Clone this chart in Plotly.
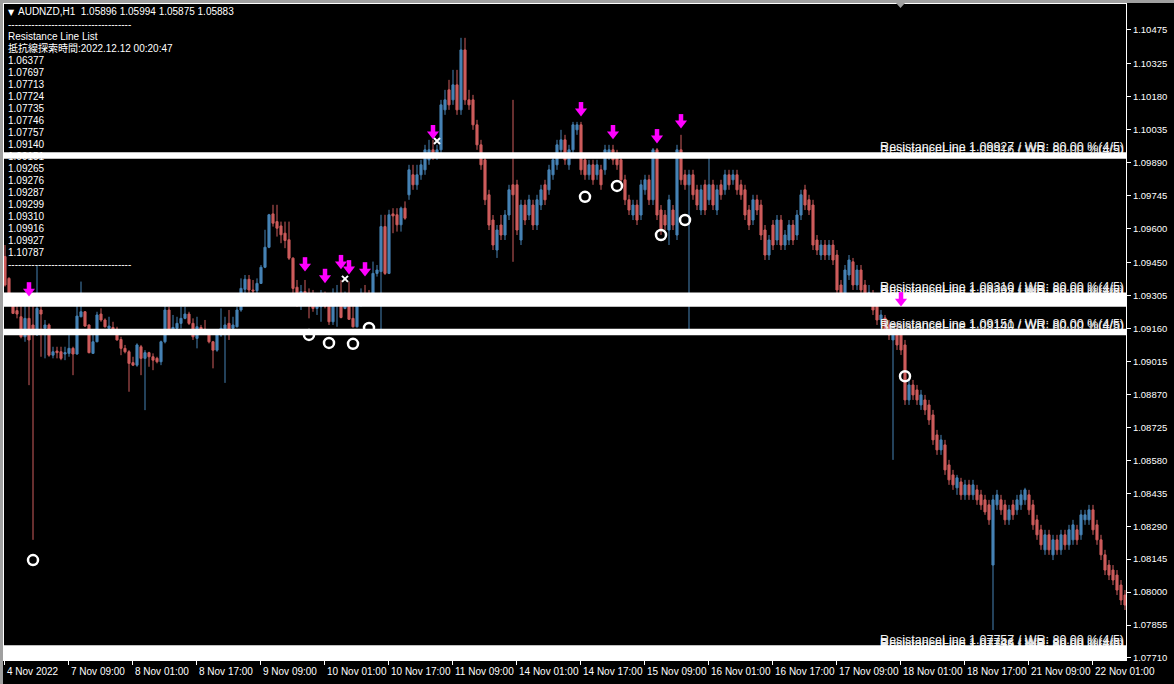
import plotly.graph_objects as go

# ---------------- data (H1 bars, 4 Nov 17:00 -> 22 Nov 08:00) ----------------
open_ = [
1.09477,1.09381,1.09264,1.09239,1.09212,1.09124,1.09205,1.09176,1.09132,1.09242,
1.09161,1.09176,1.09043,1.09061,1.09058,1.09048,1.09051,1.09073,1.09048,1.09212,
1.09234,1.09176,1.09051,1.09102,1.09224,1.09198,1.09161,1.09165,1.09157,1.09112,
1.09073,1.09058,1.09010,1.08999,1.09080,1.09029,1.09054,1.09036,1.09029,1.09014,
1.09102,1.09242,1.09157,1.09161,1.09183,1.09205,1.09224,1.09183,1.09117,1.09165,
1.09157,1.09154,1.09102,1.09065,1.09132,1.09157,1.09183,1.09161,1.09168,1.09242,
1.09333,1.09377,1.09330,1.09327,1.09359,1.09430,1.09518,1.09665,1.09631,1.09612,
1.09580,1.09551,1.09470,1.09342,1.09298,1.09323,1.09304,1.09298,1.09249,1.09256,
1.09286,1.09264,1.09190,1.09301,1.09312,1.09249,1.09304,1.09205,1.09168,1.09264,
1.09301,1.09298,1.09279,1.09403,1.09411,1.09609,1.09403,1.09665,1.09661,1.09617,
1.09690,
1.09749,1.09837,1.09793,1.09837,1.09859,1.09903,1.09947,1.09915,1.09947,1.10123,
1.10211,1.10167,1.10233,1.10123,1.10387,1.10167,1.10167,1.10057,1.09969,1.09903,
1.09749,1.09638,1.09506,1.09616,1.09572,1.09660,1.09793,1.09793,1.09550,1.09704,
1.09660,1.09704,1.09616,1.09704,1.09793,1.09771,1.09837,1.09881,1.09947,1.09991,
1.09881,1.09947,1.10035,1.10057,1.09903,1.09837,1.09881,1.09837,1.09859,1.09859,
1.09925,1.09947,1.09925,1.09903,1.09815,1.09727,1.09660,1.09704,1.09660,1.09771,
1.09815,1.09727,1.09947,1.09682,1.09660,1.09594,1.09682,1.09572,1.09947,1.09837,
1.09793,1.09837,1.09771,1.09682,1.09793,1.09727,1.09793,1.09682,1.09793,1.09771,
1.09837,1.09815,1.09837,1.09793,1.09771,1.09682,1.09638,1.09727,1.09704,1.09594,
1.09484,1.09616,1.09550,1.09638,1.09528,1.09550,1.09616,1.09572,1.09660,1.09771,
1.09727,1.09704,1.09550,1.09484,1.09528,1.09484,1.09528,1.09484,1.09352,1.09308,
1.09396,1.09454,1.09352,1.09418,1.09352,1.09319,1.09308,1.09264,1.09198,1.09207,
1.09176,1.09110,1.09154,1.09132,1.09088,1.08846,1.08912,1.08890,1.08824,1.08846,
1.08824,1.08780,1.08692,1.08626,1.08648,1.08560,1.08516,1.08459,1.08485,1.08428,
1.08472,1.08428,1.08450,1.08428,1.08406,1.08384,1.08119,1.08384,1.08406,1.08384,
1.08318,1.08384,1.08362,1.08384,1.08406,1.08428,1.08384,1.08318,1.08274,1.08186,
1.08252,1.08164,1.08230,1.08186,1.08252,1.08208,1.08230,1.08274,1.08252,1.08318,
1.08318,1.08362,1.08296,1.08230,1.08164,1.08119,1.08097,1.08075,1.08031,1.07987,
]
high = [
1.09528,1.09386,1.09304,1.09264,1.09264,1.09286,1.09264,1.09264,1.09436,1.09308,
1.09198,1.09183,1.09080,1.09080,1.09080,1.09080,1.09139,1.09080,1.09304,1.09367,
1.09237,1.09178,1.09154,1.09234,1.09249,1.09205,1.09212,1.09190,1.09168,1.09124,
1.09088,1.09065,1.09036,1.09095,1.09088,1.09065,1.09058,1.09051,1.09036,1.09107,
1.09264,1.09257,1.09220,1.09212,1.09257,1.09257,1.09234,1.09205,1.09212,1.09176,
1.09198,1.09158,1.09106,1.09146,1.09249,1.09212,1.09242,1.09212,1.09257,1.09381,
1.09396,1.09396,1.09374,1.09381,1.09440,1.09595,1.09665,1.09705,1.09705,1.09631,
1.09631,1.09631,1.09474,1.09374,1.09352,1.09374,1.09337,1.09330,1.09315,1.09330,
1.09323,1.09301,1.09337,1.09352,1.09374,1.09323,1.09367,1.09271,1.09301,1.09337,
1.09352,1.09330,1.09455,1.09440,1.09661,1.09661,1.09683,1.09690,1.09690,1.09697,
1.09720,
1.09881,1.09881,1.09881,1.09903,1.09969,1.09991,1.09991,1.09969,1.10167,1.10211,
1.10255,1.10299,1.10299,1.10440,1.10440,1.10211,1.10189,1.10079,1.09991,1.09925,
1.09771,1.09660,1.09616,1.09660,1.09682,1.09793,1.10167,1.09815,1.09727,1.09727,
1.09749,1.09727,1.09749,1.09793,1.09815,1.09881,1.09925,1.09991,1.10035,1.10013,
1.09969,1.10070,1.10070,1.10070,1.09925,1.09903,1.09903,1.09903,1.09881,1.09969,
1.09969,1.09969,1.09947,1.09925,1.09837,1.09749,1.09727,1.09727,1.09815,1.09837,
1.09837,1.09955,1.09955,1.09704,1.09682,1.09749,1.09704,1.09969,1.10013,1.09859,
1.09859,1.09859,1.09793,1.09793,1.09815,1.09925,1.09815,1.09793,1.09815,1.09859,
1.09859,1.09859,1.09859,1.09815,1.09793,1.09704,1.09749,1.09749,1.09727,1.09616,
1.09572,1.09638,1.09660,1.09660,1.09594,1.09638,1.09638,1.09682,1.09771,1.09793,
1.09749,1.09727,1.09572,1.09550,1.09550,1.09550,1.09550,1.09506,1.09374,1.09440,
1.09484,1.09471,1.09440,1.09440,1.09374,1.09352,1.09330,1.09286,1.09242,1.09220,
1.09198,1.09176,1.09176,1.09154,1.09110,1.08934,1.08934,1.08912,1.08890,1.08868,
1.08846,1.08802,1.08714,1.08692,1.08670,1.08582,1.08538,1.08516,1.08503,1.08494,
1.08494,1.08494,1.08472,1.08450,1.08428,1.08406,1.08428,1.08450,1.08428,1.08406,
1.08384,1.08406,1.08428,1.08450,1.08459,1.08450,1.08406,1.08340,1.08296,1.08274,
1.08274,1.08252,1.08252,1.08274,1.08274,1.08296,1.08318,1.08296,1.08362,1.08362,
1.08384,1.08384,1.08318,1.08252,1.08186,1.08141,1.08119,1.08097,1.08053,1.08009,
]
low = [
1.09345,1.09260,1.09224,1.09205,1.09117,1.09102,1.08911,1.08230,1.09128,1.09036,
1.09029,1.09036,1.09029,1.09029,1.09021,1.09021,1.09036,1.08955,1.09045,1.09210,
1.09168,1.09051,1.09048,1.09100,1.09190,1.09165,1.09154,1.09146,1.09107,1.09043,
1.09051,1.08882,1.08995,1.08992,1.08955,1.08801,1.08992,1.08977,1.09007,1.08999,
1.09095,1.09150,1.09139,1.09154,1.09161,1.09201,1.09176,1.09110,1.09073,1.09146,
1.09146,1.09095,1.08985,1.09058,1.09124,1.08921,1.09110,1.09154,1.09165,1.09234,
1.09301,1.09304,1.09308,1.09315,1.09357,1.09426,1.09514,1.09609,1.09565,1.09536,
1.09514,1.09462,1.09308,1.09256,1.09242,1.09286,1.09205,1.09234,1.09220,1.09190,
1.09249,1.09176,1.09176,1.09168,1.09205,1.09245,1.09198,1.09165,1.09165,1.09256,
1.09264,1.09264,1.09271,1.09389,1.09154,1.09396,1.09400,1.09580,1.09587,1.09587,
1.09639,
1.09727,1.09771,1.09771,1.09815,1.09837,1.09881,1.09903,1.09903,1.09925,1.10101,
1.10123,1.10145,1.10101,1.10101,1.10145,1.10123,1.10035,1.09947,1.09859,1.09704,
1.09594,1.09506,1.09471,1.09550,1.09550,1.09638,1.09454,1.09572,1.09528,1.09616,
1.09638,1.09594,1.09594,1.09682,1.09704,1.09749,1.09815,1.09859,1.09925,1.09881,
1.09859,1.09925,1.10013,1.09837,1.09815,1.09815,1.09793,1.09815,1.09771,1.09837,
1.09903,1.09881,1.09859,1.09793,1.09704,1.09660,1.09638,1.09616,1.09638,1.09749,
1.09704,1.09704,1.09638,1.09572,1.09594,1.09528,1.09594,1.09550,1.09793,1.09771,
1.09154,1.09727,1.09682,1.09660,1.09660,1.09704,1.09682,1.09660,1.09727,1.09749,
1.09771,1.09793,1.09749,1.09727,1.09638,1.09594,1.09616,1.09660,1.09550,1.09462,
1.09462,1.09506,1.09528,1.09506,1.09506,1.09528,1.09528,1.09550,1.09638,1.09682,
1.09660,1.09506,1.09484,1.09462,1.09462,1.09462,1.09440,1.09308,1.09264,1.09286,
1.09374,1.09330,1.09330,1.09308,1.09286,1.09286,1.09220,1.09176,1.09176,1.09132,
1.09110,1.08582,1.09066,1.09044,1.08824,1.08824,1.08846,1.08824,1.08802,1.08780,
1.08736,1.08648,1.08604,1.08604,1.08516,1.08472,1.08450,1.08428,1.08406,1.08406,
1.08406,1.08406,1.08384,1.08362,1.08340,1.08296,1.07833,1.08362,1.08340,1.08296,
1.08296,1.08318,1.08340,1.08362,1.08384,1.08340,1.08274,1.08230,1.08186,1.08164,
1.08164,1.08141,1.08164,1.08164,1.08186,1.08186,1.08208,1.08208,1.08230,1.08296,
1.08296,1.08252,1.08208,1.08141,1.08075,1.08053,1.08031,1.07987,1.07943,1.07921,
]
close = [
1.09352,1.09264,1.09227,1.09224,1.09124,1.09205,1.09110,1.09139,1.09249,1.09224,
1.09176,1.09043,1.09058,1.09054,1.09029,1.09054,1.09073,1.09048,1.09215,1.09234,
1.09171,1.09054,1.09102,1.09220,1.09198,1.09168,1.09171,1.09151,1.09110,1.09073,
1.09058,1.09007,1.08999,1.09088,1.09029,1.09054,1.09036,1.09021,1.09014,1.09102,
1.09242,1.09154,1.09165,1.09183,1.09205,1.09224,1.09183,1.09124,1.09168,1.09154,
1.09151,1.09102,1.09065,1.09136,1.09161,1.09176,1.09154,1.09176,1.09242,1.09337,
1.09377,1.09330,1.09326,1.09359,1.09430,1.09518,1.09661,1.09624,1.09602,1.09573,
1.09548,1.09470,1.09337,1.09301,1.09323,1.09298,1.09289,1.09249,1.09259,1.09286,
1.09259,1.09190,1.09304,1.09312,1.09209,1.09304,1.09201,1.09168,1.09264,1.09298,
1.09293,1.09283,1.09403,1.09418,1.09609,1.09403,1.09661,1.09656,1.09617,1.09690,
1.09646,
1.09859,1.09793,1.09837,1.09881,1.09947,1.09947,1.09925,1.09947,1.10145,1.10167,
1.10145,1.10233,1.10123,1.10387,1.10167,1.10145,1.10057,1.09969,1.09881,1.09727,
1.09616,1.09528,1.09594,1.09572,1.09660,1.09771,1.09749,1.09594,1.09704,1.09638,
1.09727,1.09616,1.09727,1.09771,1.09727,1.09859,1.09903,1.09969,1.09991,1.09903,
1.09947,1.10057,1.10057,1.09859,1.09837,1.09881,1.09815,1.09881,1.09793,1.09947,
1.09947,1.09903,1.09881,1.09815,1.09727,1.09682,1.09704,1.09638,1.09793,1.09815,
1.09727,1.09947,1.09660,1.09594,1.09616,1.09727,1.09616,1.09947,1.09815,1.09793,
1.09837,1.09749,1.09704,1.09771,1.09682,1.09793,1.09704,1.09771,1.09749,1.09837,
1.09793,1.09837,1.09771,1.09749,1.09660,1.09616,1.09727,1.09682,1.09572,1.09484,
1.09550,1.09528,1.09638,1.09528,1.09572,1.09616,1.09550,1.09660,1.09749,1.09704,
1.09682,1.09528,1.09506,1.09528,1.09484,1.09528,1.09462,1.09330,1.09286,1.09418,
1.09462,1.09352,1.09418,1.09330,1.09308,1.09319,1.09242,1.09198,1.09220,1.09154,
1.09132,1.09154,1.09088,1.09066,1.08846,1.08912,1.08868,1.08846,1.08868,1.08802,
1.08758,1.08670,1.08626,1.08670,1.08538,1.08494,1.08472,1.08503,1.08428,1.08472,
1.08428,1.08472,1.08406,1.08384,1.08353,1.08318,1.08406,1.08428,1.08362,1.08318,
1.08362,1.08340,1.08406,1.08428,1.08450,1.08362,1.08296,1.08252,1.08208,1.08252,
1.08186,1.08230,1.08186,1.08252,1.08208,1.08274,1.08296,1.08230,1.08340,1.08340,
1.08362,1.08274,1.08230,1.08164,1.08097,1.08075,1.08053,1.08009,1.07965,1.07943,
]
assert len(open_) == len(high) == len(low) == len(close) == 281
bars = list(range(len(close)))

levels = [1.06377, 1.07697, 1.07713, 1.07724, 1.07735, 1.07746, 1.07757, 1.09140, 1.09151,
          1.09265, 1.09276, 1.09287, 1.09299, 1.09310, 1.09916, 1.09927, 1.10787]
win_rate = "80.00 %(4/5)"

arrow_bar = [6, 75, 80, 84, 86, 90, 107, 144, 152, 163, 169, 224]
arrow_price = [1.09330, 1.09440, 1.09389, 1.09450, 1.09427, 1.09418, 1.10022, 1.10123, 1.10022, 1.10004, 1.10070, 1.09286]
circle_bar = [7, 76, 81, 87, 91, 145, 153, 164, 170, 225]
circle_price = [1.08141, 1.09132, 1.09097, 1.09093, 1.09163, 1.09740, 1.09788, 1.09572, 1.09638, 1.08950]
cross_bar = [85, 108]
cross_price = [1.09379, 1.09986]

y_ticks = [1.07710, 1.07855, 1.08000, 1.08145, 1.08290, 1.08435, 1.08580, 1.08725, 1.08870, 1.09015,
           1.09160, 1.09305, 1.09450, 1.09600, 1.09745, 1.09890, 1.10035, 1.10180, 1.10325, 1.10475]
x_tick_bars = [0, 16, 32, 48, 64, 80, 96, 112, 128, 144, 160, 176, 192, 208, 224, 240, 256, 272]
x_tick_text = ["4 Nov 2022", "7 Nov 09:00", "8 Nov 01:00", "8 Nov 17:00", "9 Nov 09:00", "10 Nov 01:00",
               "10 Nov 17:00", "11 Nov 09:00", "14 Nov 01:00", "14 Nov 17:00", "15 Nov 09:00", "16 Nov 01:00",
               "16 Nov 17:00", "17 Nov 09:00", "18 Nov 01:00", "18 Nov 17:00", "21 Nov 09:00", "22 Nov 01:00"]
header = "AUDNZD,H1  1.05896 1.05994 1.05875 1.05883"
list_title = "Resistance Line List"
search_time = "抵抗線探索時間:2022.12.12 00:20:47"

# ---------------- geometry ----------------
W, H = 1174, 684
PL, PR, PT, PB = 4, 1126, 4, 660
X0, X1 = -0.25, 280.25
Y0, Y1 = 1.07701, 1.10589
DP = (Y1 - Y0) / (PB - PT)   # price per pixel

def px2x(px):
    return X0 + (px - PL) / (PR - PL) * (X1 - X0)

def py2y(py):
    return Y1 - (py - PT) * DP

def xp(px):
    return (px - PL) / (PR - PL)

def yp(py):
    return (PB - py) / (PB - PT)

FONT = "Liberation Sans, Noto Sans CJK JP"
BLUE = "#4682B4"
RED = "#CD5C5C"
MAG = "#FF00FF"

fig = go.Figure()
fig.add_trace(go.Candlestick(
    x=bars, open=open_, high=high, low=low, close=close,
    increasing=dict(line=dict(color=BLUE, width=1), fillcolor=BLUE),
    decreasing=dict(line=dict(color=RED, width=1), fillcolor=RED),
    whiskerwidth=0, hoverinfo="skip"))

# top-left info list (text under the resistance lines)
rows = ["-" * 37, list_title, search_time] + [f"{v:.5f}" for v in levels] + ["-" * 37]
row_y = [25.5 + 12.0 * i for i in range(len(rows))]
fig.add_trace(go.Scatter(
    x=[px2x(8)] * len(rows), y=[py2y(v) for v in row_y], mode="text", text=rows,
    textposition="middle right", textfont=dict(family=FONT, size=10, color="white"),
    hoverinfo="skip", cliponaxis=False))
fig.add_trace(go.Scatter(
    x=[px2x(18)], y=[py2y(12.5)], mode="text", text=[header],
    textposition="middle right", textfont=dict(family=FONT, size=10, color="white"),
    hoverinfo="skip", cliponaxis=False))
fig.add_trace(go.Scatter(
    x=[px2x(11)], y=[py2y(12.5)], mode="text", text=["▼"],
    textposition="middle center", textfont=dict(family="DejaVu Sans", size=8, color="white"),
    hoverinfo="skip", cliponaxis=False))

# circles (drawn under lines)
fig.add_trace(go.Scatter(
    x=circle_bar, y=circle_price, mode="markers",
    marker=dict(symbol="circle-open", size=10, color="white", line=dict(width=2.5, color="white")),
    hoverinfo="skip"))

# resistance labels
vis = [v for v in levels if Y0 < v < Y1]
fig.add_trace(go.Scatter(
    x=[px2x(1124)] * len(vis), y=vis, mode="text",
    text=[f"ResistanceLine {v:.5f} / WR: {win_rate}" for v in vis],
    textposition="top left", textfont=dict(family=FONT, size=12.5, color="#F0F0F0"),
    hoverinfo="skip"))

# resistance lines
lx, ly = [], []
for v in levels:
    lx += [X0, X1, None]
    ly += [v, v, None]
fig.add_trace(go.Scatter(x=lx, y=ly, mode="lines", line=dict(color="white", width=4), hoverinfo="skip"))

# arrows (head + stem) and crosses on top
fig.add_trace(go.Scatter(
    x=arrow_bar, y=[p + 3.6 * DP for p in arrow_price], mode="markers",
    marker=dict(symbol="line-ns", size=6, line=dict(width=4.5, color=MAG)), hoverinfo="skip"))
fig.add_trace(go.Scatter(
    x=arrow_bar, y=[p - 1.3 * DP for p in arrow_price], mode="markers",
    marker=dict(symbol="triangle-down", size=10.5, color=MAG, line=dict(width=0)), hoverinfo="skip"))
fig.add_trace(go.Scatter(
    x=cross_bar, y=cross_price, mode="markers",
    marker=dict(symbol="x-thin", size=6, line=dict(width=2, color="white")), hoverinfo="skip"))

annotations = []
for b, t in zip(x_tick_bars, x_tick_text):
    annotations.append(dict(x=b - 0.25, y=0, xref="x", yref="paper", text=t, showarrow=False,
                            xanchor="left", yanchor="top", xshift=1, yshift=-4,
                            font=dict(family=FONT, size=10, color="white")))

shapes = [
    dict(type="rect", xref="paper", yref="paper", x0=xp(0), x1=xp(W), y0=yp(0), y1=yp(3),
         fillcolor="#A0A0A0", line=dict(width=0)),
    dict(type="rect", xref="paper", yref="paper", x0=xp(0), x1=xp(3), y0=yp(0), y1=yp(H),
         fillcolor="#A0A0A0", line=dict(width=0)),
    dict(type="path", xref="paper", yref="paper",
         path=f"M {xp(896)} {yp(3)} L {xp(905)} {yp(3)} L {xp(900.5)} {yp(8)} Z",
         fillcolor="#A0A0A0", line=dict(width=0)),
]

fig.update_layout(
    width=W, height=H, margin=dict(l=PL, r=W - PR, t=PT, b=H - PB),
    paper_bgcolor="black", plot_bgcolor="black", showlegend=False,
    annotations=annotations, shapes=shapes,
    xaxis=dict(range=[X0, X1], showgrid=False, zeroline=False, showline=True, linecolor="white",
               linewidth=1, mirror=True, ticks="outside", ticklen=4, tickcolor="white",
               tickvals=[b - 0.25 for b in x_tick_bars], showticklabels=False,
               rangeslider=dict(visible=False), fixedrange=True),
    yaxis=dict(range=[Y0, Y1], side="right", showgrid=False, zeroline=False, showline=True,
               linecolor="white", linewidth=1, mirror=True, ticks="outside", ticklen=4,
               tickcolor="white", tickvals=y_ticks, ticktext=[f"{v:.5f}" for v in y_ticks],
               tickfont=dict(family=FONT, size=9.5, color="white"), fixedrange=True),
    boxgap=0.25,
)

fig.write_html("out.html", config={"displayModeBar": False},
               post_script="document.body.style.margin='0px';")
